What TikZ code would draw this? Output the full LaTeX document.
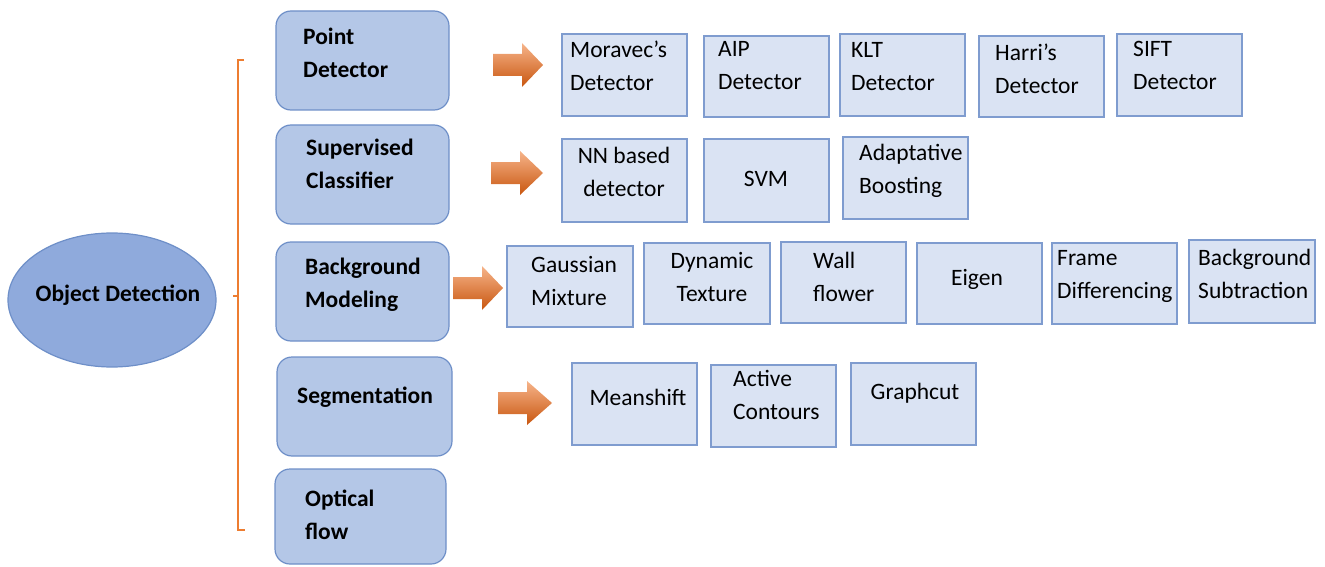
\documentclass[tikz,border=0pt]{standalone}
\usepackage{fontspec}
\setmainfont{Carlito}
\usetikzlibrary{shapes.geometric}
\definecolor{leafFill}{HTML}{DAE3F3}
\definecolor{leafDraw}{HTML}{7F9CCF}
\definecolor{catFill}{HTML}{B4C7E7}
\definecolor{catDraw}{HTML}{6E8FC8}
\definecolor{ellFill}{HTML}{8FAADC}
\definecolor{ellDraw}{HTML}{6E8FC8}
\definecolor{brk}{HTML}{ED7D31}
\definecolor{arrLight}{HTML}{F6B48A}
\definecolor{arrDark}{HTML}{C9560F}
\tikzset{
  leafbox/.style={draw=leafDraw, fill=leafFill, line width=1.2pt, inner sep=0pt},
  catbox/.style={draw=catDraw, fill=catFill, line width=1.2pt, rounded corners=15pt, inner sep=0pt},
  lbl/.style={inner sep=0pt, font=\fontsize{23.5}{33}\selectfont},
  clbl/.style={inner sep=0pt, font=\fontsize{23.5}{33}\selectfont\bfseries, align=left, anchor=west},
  brace/.style={draw=brk, line width=1.8pt},
  blockarrow/.style={top color=arrLight, bottom color=arrDark, draw=none}
}
% name, x1, y1, x2, y2, style (box), text anchor/align options, text position, text
\newcommand{\mybox}[9]{%
  \node[#6, minimum width={#4-#2}, minimum height={#5-#3}] (#1) at ({(#2+#4)/2},{(#3+#5)/2}) {};
  \node[#7] (#1-t) at #8 {#9};
}
\newcommand{\blockarr}[4]{% tailx, tipx, cy, headstart
  \shade[blockarrow] (#1,#3-11) -- (#4,#3-11) -- (#4,#3-22) -- (#2,#3) -- (#4,#3+22) -- (#4,#3+11) -- (#1,#3+11) -- cycle;
}
\begin{document}
\begin{tikzpicture}[x=1pt,y=-1pt]
\useasboundingbox (0,0) rectangle (1325,567);

% root
\node[ellipse, draw=ellDraw, fill=ellFill, line width=1.2pt, minimum width=208, minimum height=134, inner sep=0pt] (root) at (112,300) {};
\node[clbl, anchor=center] (root-t) at (118,295) {Object Detection};

% bracket
\coordinate (bt) at (238,60);
\coordinate (bb) at (238,530);
\coordinate (bm) at (238,296);
\draw[brace] ([xshift=6pt]bt) -- (bt) -- (bb) -- ([xshift=7pt]bb);
\draw[brace] (bm) -- ([xshift=-5pt]bm);

% categories
\mybox{pd}{276}{11}{449}{110}{catbox}{clbl}{(303,53)}{Point\\Detector}
\mybox{sc}{276}{125}{449}{224}{catbox}{clbl}{(306,164)}{Supervised\\Classifier}
\mybox{bgm}{276}{242}{449}{341}{catbox}{clbl}{(305,285)}{Background\\Modeling}
\mybox{seg}{277}{357}{452}{456}{catbox}{clbl}{(297,397)}{Segmentation}
\mybox{of}{275}{469}{446}{564}{catbox}{clbl}{(305,515)}{Optical\\flow}

% arrows
\blockarr{493}{543}{65}{522}
\blockarr{491}{543}{173}{520}
\blockarr{453}{503}{288}{482}
\blockarr{498}{552}{403}{527}

% row 1
\mybox{md}{562}{34}{687}{116}{leafbox}{lbl,align=left,anchor=west}{(570,66)}{Moravec’s\\Detector}
\mybox{aip}{704}{36}{829}{117}{leafbox}{lbl,align=left,anchor=west}{(718,66)}{AIP\\Detector}
\mybox{klt}{840}{34}{965}{116}{leafbox}{lbl,align=left,anchor=west}{(851,67)}{KLT\\Detector}
\mybox{har}{979}{36}{1104}{117}{leafbox}{lbl,align=left,anchor=west}{(995,69)}{Harri’s\\Detector}
\mybox{sift}{1117}{34}{1242}{116}{leafbox}{lbl,align=left,anchor=west}{(1133,65)}{SIFT\\Detector}

% row 2
\mybox{nn}{562}{139}{687}{222}{leafbox}{lbl,align=center}{(624,172)}{NN based\\detector}
\mybox{svm}{704}{139}{829}{222}{leafbox}{lbl,align=center}{(766,179)}{SVM}
\mybox{ada}{843}{137}{968}{219}{leafbox}{lbl,align=left,anchor=west}{(859,171)}{Adaptative\\Boosting}

% row 3
\mybox{gm}{507}{246}{633}{327}{leafbox}{lbl,align=left,anchor=west}{(531,281)}{Gaussian\\Mixture}
\mybox{dt}{644}{243}{770}{324}{leafbox}{lbl,align=center}{(712,277)}{Dynamic\\Texture}
\mybox{wf}{781}{242}{906}{323}{leafbox}{lbl,align=left,anchor=west}{(813,277)}{Wall\\flower}
\mybox{eig}{917}{243}{1042}{324}{leafbox}{lbl,align=center}{(977,279)}{Eigen}
\mybox{fd}{1052}{243}{1177}{324}{leafbox}{lbl,align=left,anchor=west}{(1057,276)}{Frame\\Differencing}
\mybox{bs}{1189}{240}{1315}{323}{leafbox}{lbl,align=left,anchor=west}{(1198,274)}{Background\\Subtraction}

% row 4
\mybox{ms}{572}{363}{697}{445}{leafbox}{lbl,align=center}{(638,397)}{Meanshift}
\mybox{ac}{711}{365}{836}{447}{leafbox}{lbl,align=left,anchor=west}{(733,395)}{Active\\Contours}
\mybox{gc}{851}{363}{976}{445}{leafbox}{lbl,align=center}{(915,393)}{Graphcut}
\end{tikzpicture}
\end{document}
